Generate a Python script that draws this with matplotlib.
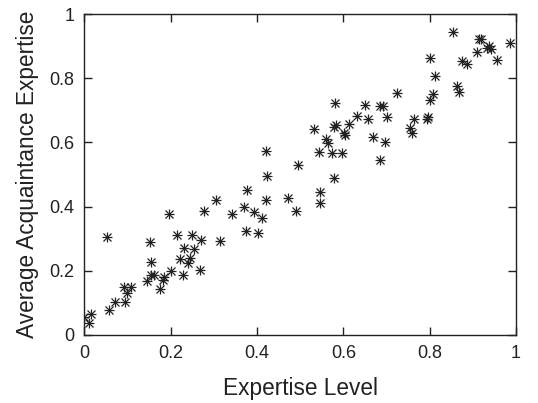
import matplotlib
matplotlib.use("Agg")
import matplotlib.pyplot as plt
import numpy as np

plt.rcParams['font.family'] = ['Liberation Sans', 'DejaVu Sans']

expertise = [0.000, 0.010, 0.014, 0.053, 0.056, 0.071, 0.091, 0.094, 0.099, 0.107,
             0.144, 0.153, 0.155, 0.155, 0.162, 0.174, 0.182, 0.184, 0.196, 0.201,
             0.215, 0.221, 0.230, 0.228, 0.240, 0.244, 0.250, 0.254, 0.267, 0.270,
             0.277, 0.304, 0.313, 0.342, 0.369, 0.376, 0.374, 0.393, 0.403, 0.412,
             0.420, 0.420, 0.423, 0.472, 0.491, 0.494, 0.532, 0.544, 0.546, 0.547,
             0.560, 0.565, 0.574, 0.579, 0.581, 0.579, 0.584, 0.596, 0.602, 0.604,
             0.612, 0.632, 0.651, 0.658, 0.669, 0.686, 0.692, 0.685, 0.696, 0.702,
             0.725, 0.754, 0.759, 0.764, 0.794, 0.797, 0.801, 0.801, 0.807, 0.812,
             0.855, 0.864, 0.869, 0.876, 0.887, 0.909, 0.914, 0.918, 0.932, 0.937,
             0.943, 0.957, 0.986]
acq_expertise = [0.057, 0.036, 0.065, 0.304, 0.078, 0.104, 0.148, 0.104, 0.130, 0.148,
                 0.169, 0.291, 0.228, 0.187, 0.187, 0.142, 0.171, 0.182, 0.376, 0.200,
                 0.310, 0.236, 0.270, 0.187, 0.223, 0.239, 0.312, 0.267, 0.202, 0.296,
                 0.386, 0.421, 0.293, 0.377, 0.400, 0.452, 0.325, 0.384, 0.317, 0.363,
                 0.574, 0.421, 0.496, 0.426, 0.387, 0.530, 0.643, 0.571, 0.444, 0.412,
                 0.610, 0.597, 0.566, 0.490, 0.722, 0.649, 0.654, 0.566, 0.628, 0.623,
                 0.657, 0.683, 0.717, 0.673, 0.618, 0.713, 0.713, 0.545, 0.602, 0.678,
                 0.755, 0.644, 0.628, 0.673, 0.674, 0.678, 0.862, 0.732, 0.751, 0.807,
                 0.943, 0.776, 0.756, 0.855, 0.844, 0.883, 0.921, 0.921, 0.893, 0.902,
                 0.891, 0.857, 0.911]

ticks = [0, 0.2, 0.4, 0.6, 0.8, 1]
tick_labels = ['0', '0.2', '0.4', '0.6', '0.8', '1']

fig = plt.figure(figsize=(5.38, 4.03), dpi=100)
ax = fig.add_axes([0.157, 0.169, 0.802, 0.796])

ax.plot(expertise, acq_expertise, linestyle='none', marker='+', markersize=7,
        markeredgewidth=0.9, color='#222222')
ax.plot(expertise, acq_expertise, linestyle='none', marker='x', markersize=6,
        markeredgewidth=0.9, color='#222222')

ax.set_xlim(0, 1)
ax.set_ylim(0, 1)
ax.set_xticks(ticks)
ax.set_xticklabels(tick_labels)
ax.set_yticks(ticks)
ax.set_yticklabels(tick_labels)
ax.tick_params(direction='in', length=6, width=1, top=True, right=True,
               labelsize=13, pad=7, colors='#222222')
for s in ax.spines.values():
    s.set_linewidth(1)
    s.set_color('#222222')

ax.set_xlabel('Expertise Level', fontsize=16.3, labelpad=11, color='#222222')
ax.set_ylabel('Average Acquaintance Expertise', fontsize=16.3, labelpad=8, color='#222222')

fig.savefig('out.png', dpi=100)
